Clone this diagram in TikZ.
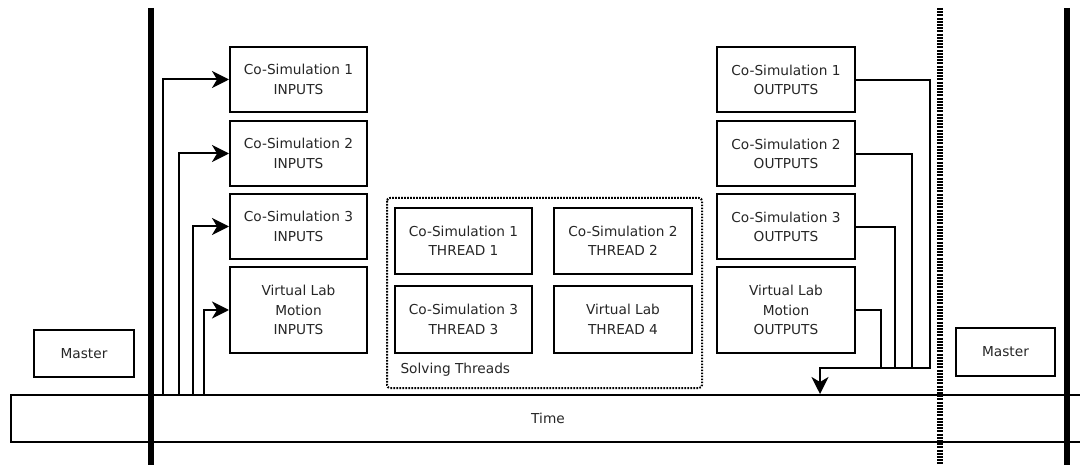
\documentclass[tikz,border=0pt]{standalone}
\usepackage{fontspec}
\setmainfont{DejaVu Sans}
\usetikzlibrary{arrows.meta}
\tikzset{
  box/.style={draw, line width=2pt, align=center, inner sep=0pt,
    font=\fontsize{13.7}{19.5}\selectfont, text=black!85},
  conn/.style={line width=2pt},
  arr/.style={conn, -{Stealth[length=17pt, width=17pt, inset=5pt]}},
  bar/.style={line width=6pt},
  dashbar/.style={line width=6pt, dash pattern=on 2pt off 1.2pt},
}
\begin{document}
\begin{tikzpicture}[x=1pt, y=-1pt]
\useasboundingbox (0,0) rectangle (1080,465);
\clip (0,0) rectangle (1080,465);

% time line
\node[box, minimum width=1074pt, minimum height=47pt] (time) at (548,418.5) {Time};

% synchronisation bars
\draw[bar] (151,8) -- (151,465);
\draw[bar] (1067,8) -- (1067,465);
\draw[dashbar] (940,8) -- (940,465);

% master boxes
\node[box, minimum width=100pt, minimum height=47pt] (mL) at (84,353.5) {Master};
\node[box, minimum width=99pt, minimum height=47pt] (mR) at (1005.5,352) {Master};

% input boxes
\node[box, minimum width=137pt, minimum height=65pt] (in1) at (298.5,79.5) {Co-Simulation 1\\INPUTS};
\node[box, minimum width=137pt, minimum height=65pt] (in2) at (298.5,153.5) {Co-Simulation 2\\INPUTS};
\node[box, minimum width=137pt, minimum height=65pt] (in3) at (298.5,226.5) {Co-Simulation 3\\INPUTS};
\node[box, minimum width=137pt, minimum height=86pt] (in4) at (298.5,310) {Virtual Lab\\Motion\\INPUTS};

% output boxes
\node[box, minimum width=138pt, minimum height=65pt] (out1) at (786,80) {Co-Simulation 1\\OUTPUTS};
\node[box, minimum width=138pt, minimum height=65pt] (out2) at (786,154) {Co-Simulation 2\\OUTPUTS};
\node[box, minimum width=138pt, minimum height=65pt] (out3) at (786,227) {Co-Simulation 3\\OUTPUTS};
\node[box, minimum width=138pt, minimum height=86pt] (out4) at (786,310) {Virtual Lab\\Motion\\OUTPUTS};

% solving threads
\draw[line width=2pt, dash pattern=on 1.6pt off 1.4pt, rounded corners=3pt]
  (387,198) rectangle (702,388);
\node[anchor=west, font=\fontsize{13.7}{16}\selectfont, text=black!85] (solv) at (397,370) {Solving Threads};
\node[box, minimum width=137pt, minimum height=66pt] (th1) at (463.5,241) {Co-Simulation 1\\THREAD 1};
\node[box, minimum width=138pt, minimum height=66pt] (th2) at (623,241) {Co-Simulation 2\\THREAD 2};
\node[box, minimum width=137pt, minimum height=67pt] (th3) at (463.5,319.5) {Co-Simulation 3\\THREAD 3};
\node[box, minimum width=138pt, minimum height=67pt] (th4) at (623,319.5) {Virtual Lab\\THREAD 4};

% inputs taken from the time line
\coordinate (t1) at (163,395);
\coordinate (t2) at (179,395);
\coordinate (t3) at (193,395);
\coordinate (t4) at (204,395);
\draw[arr] (t1) |- (in1.west);
\draw[arr] (t2) |- (in2.west);
\draw[arr] (t3) |- (in3.west);
\draw[arr] (t4) |- (in4.west);

% outputs gathered back to the time line
\coordinate (c1) at (930,368);
\coordinate (c2) at (912,368);
\coordinate (c3) at (895,368);
\coordinate (c4) at (881,368);
\coordinate (bus) at (820,368);
\draw[conn] (out2.east) -| (c2);
\draw[conn] (out3.east) -| (c3);
\draw[conn] (out4.east) -| (c4);
\draw[arr] (out1.east) -| (c1) -- (bus) -- (bus |- time.north);
\end{tikzpicture}
\end{document}
